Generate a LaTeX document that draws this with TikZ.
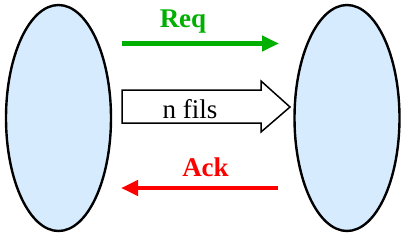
\documentclass[tikz,border=0pt]{standalone}
\usepackage{fontspec}
\setmainfont{Liberation Serif}
\usetikzlibrary{shapes.geometric,arrows.meta}
\definecolor{cellfill}{RGB}{214,236,254}
\definecolor{reqgreen}{RGB}{0,176,0}
\definecolor{ackred}{RGB}{255,0,0}
\tikzset{
  cell/.style={ellipse,draw=black,line width=2.4pt,fill=cellfill,
    minimum width=105pt,minimum height=226pt,inner sep=0pt},
  signal/.style={line width=4.2pt,-{Triangle[length=17pt,width=15pt]}},
  siglabel/.style={font=\fontsize{27}{30}\selectfont\bfseries,inner sep=0pt,anchor=base},
  bus/.style={draw=black,line width=1.5pt,fill=white,line join=miter},
}
\begin{document}
\begin{tikzpicture}[x=1pt,y=-1pt]
  \useasboundingbox (0,0) rectangle (411,244);
  % the two communicating processes
  \node[cell] (left)  at (58.5,118) {};
  \node[cell] (right) at (347,118) {};
  % request line
  \coordinate (reqA) at (122,43.5);
  \coordinate (reqB) at (279,43.5);
  \draw[signal,reqgreen] (reqA) -- (reqB);
  \node[siglabel,text=reqgreen] (req) at (183,27) {Req};
  % data bus, n wires wide
  \coordinate (b1) at (122,90);
  \coordinate (b2) at (261,90);
  \coordinate (b3) at (261,81);
  \coordinate (b4) at (290,107);
  \coordinate (b5) at (261,132);
  \coordinate (b6) at (261,123);
  \coordinate (b7) at (122,123);
  \draw[bus] (b1) -- (b2) -- (b3) -- (b4) -- (b5) -- (b6) -- (b7) -- cycle;
  \node[font=\fontsize{27}{30}\selectfont,inner sep=0pt,anchor=base] (fils) at (190,118) {n fils};
  % acknowledge line
  \coordinate (ackA) at (278,188);
  \coordinate (ackB) at (121,188);
  \draw[signal,ackred] (ackA) -- (ackB);
  \node[siglabel,text=ackred] (ack) at (205.5,176) {Ack};
\end{tikzpicture}
\end{document}
